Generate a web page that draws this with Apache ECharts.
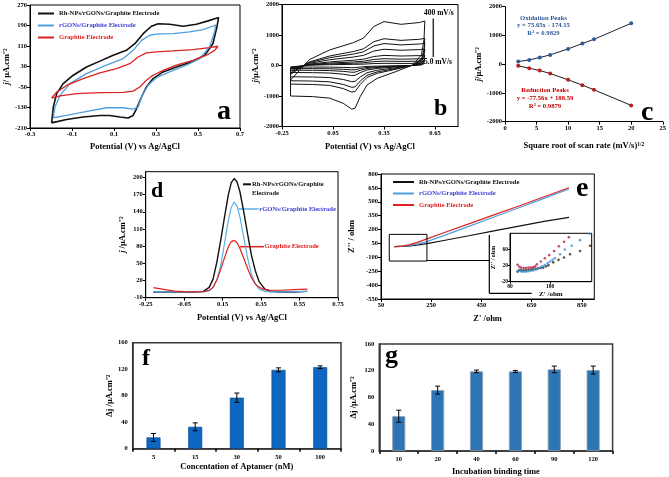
<!DOCTYPE html>
<html>
<head>
<meta charset="utf-8">
<script src="https://cdn.jsdelivr.net/npm/echarts@6/dist/echarts.min.js"></script>
<style>
html, body, #main {
  margin: 0;
  padding: 0;
  width: 669px;
  height: 477px;
  overflow: hidden;
  background: #fff;
}
</style>
</head>
<body>
<div id="main"></div>
<script>
// (a) CV loops, [potential V, j]
var aRh = [[-0.197,-190],[-0.189,-128],[-0.173,-76],[-0.142,-37],[-0.094,-4],[-0.031,28],[0.033,51],[0.096,74],[0.159,93],[0.199,119],[0.239,158],[0.278,187],[0.310,197],[0.365,195],[0.429,187],[0.492,195],[0.548,208],[0.587,218],[0.598,221],[0.590,184],[0.571,119],[0.532,74],[0.468,48],[0.397,28],[0.334,9],[0.286,-17],[0.254,-50],[0.231,-89],[0.207,-135],[0.191,-161],[0.167,-171],[0.128,-167],[0.080,-161],[0.033,-161],[-0.047,-167],[-0.126,-177],[-0.197,-190]];
var aRgo = [[-0.189,-170],[-0.181,-128],[-0.157,-83],[-0.110,-37],[-0.031,2],[0.064,35],[0.144,61],[0.191,93],[0.231,132],[0.270,152],[0.302,156],[0.381,158],[0.460,165],[0.524,174],[0.584,192],[0.579,165],[0.555,106],[0.508,61],[0.445,35],[0.365,9],[0.302,-14],[0.262,-43],[0.231,-89],[0.215,-128],[0.191,-136],[0.144,-131],[0.064,-131],[-0.047,-148],[-0.126,-161],[-0.189,-170]];
var aGraphite = [[-0.197,-93],[-0.173,-70],[-0.126,-44],[-0.047,-17],[0.033,5],[0.112,22],[0.175,41],[0.215,67],[0.254,83],[0.302,87],[0.381,91],[0.476,96],[0.555,104],[0.595,109],[0.579,93],[0.540,74],[0.476,54],[0.397,35],[0.334,15],[0.286,-4],[0.254,-24],[0.223,-50],[0.191,-66],[0.144,-71],[0.033,-72],[-0.078,-76],[-0.157,-85],[-0.197,-93]];

// (b) CV at scan rates 5..400 mV/s, shared potential path
var bPotential = [-0.20,-0.20,-0.09,0.03,0.17,0.23,0.29,0.35,0.45,0.56,0.59,0.585,0.57,0.52,0.42,0.31,0.25,0.21,0.18,0.16,0.11,0.03,-0.07,-0.20];
var b5 = [-50,-24,10,26,38,45,64,72,68,71,73,42,18,1,-10,-21,-32,-51,-70,-72,-62,-54,-51,-50];
var b15 = [-100,-48,19,51,75,90,128,144,135,141,146,84,35,2,-20,-42,-64,-102,-140,-143,-124,-107,-102,-100];
var b30 = [-155,-74,29,79,116,140,198,223,209,219,226,130,54,3,-31,-65,-99,-158,-217,-222,-192,-166,-158,-155];
var b50 = [-230,-110,44,117,173,207,294,331,311,324,336,193,81,5,-46,-97,-147,-235,-322,-329,-285,-246,-235,-230];
var b100 = [-370,-178,70,189,278,333,474,533,500,522,540,311,130,7,-74,-155,-237,-377,-518,-529,-459,-396,-377,-370];
var b150 = [-500,-240,95,255,375,450,640,720,675,705,730,420,175,10,-100,-210,-320,-510,-700,-715,-620,-535,-510,-500];
var b200 = [-610,-293,116,311,458,549,781,878,824,860,891,512,214,12,-122,-256,-390,-622,-854,-872,-756,-653,-622,-610];
var b400 = [-1000,-480,190,510,750,900,1280,1440,1350,1410,1460,840,350,20,-200,-420,-640,-1020,-1400,-1430,-1240,-1070,-1020,-1000];

// (c) peak current vs sqrt(scan rate)
var cRoot = [2.1,3.84,5.5,7.16,10,12.26,14.1,20];
var cOx = [92,150,231,324,532,717,867,1422];
var cRed = [-58,-139,-220,-324,-543,-728,-890,-1433];

// (d) DPV
var dPotential = [-0.21,-0.15,-0.10,-0.05,0.00,0.05,0.08,0.10,0.12,0.14,0.16,0.18,0.195,0.21,0.225,0.24,0.26,0.28,0.30,0.32,0.34,0.37,0.40,0.45,0.52,0.59];
var dRh = [0,0,0,0,0,1,8,22,52,90,131,170,191,198,192,175,140,101,64,37,18,5,1,0,0,1];
var dRgo = [0,0,0,0,0,0,2,8,21,46,85,126,148,157,150,131,95,59,31,14,5,1,0,0,0,1];
var dGraphite = [7.5,4,1.5,0.5,0,0.5,3,8,21,39,60,79,88,90,86,76,59,41,25,14,8,4,3,3,4,5];

// (e) Nyquist, [Z', Z'']
var eRh = [[103,15],[135,18],[166,24],[200,34],[233,48],[300,82],[400,133],[500,186],[600,238],[700,288],[799,332]];
var eRgo = [[103,15],[135,20],[166,30],[200,48],[233,70],[300,135],[400,234],[500,335],[600,436],[700,537],[799,638]];
var eGraphite = [[103,15],[130,20],[160,35],[195,62],[233,100],[300,165],[400,262],[500,358],[600,455],[700,554],[799,652]];
var eZoomBox = [[83,148],[233,148],[233,-140],[83,-140],[83,148]];
var eInsetRh = [[99,5],[103,9],[108,8],[114,8],[120,8],[126,9],[132,10],[138,11],[144,12],[150,13],[157,14],[163,15],[170,18],[176,21],[188,28],[201,34],[215,40],[230,48],[255,56],[280,69]];
var eInsetRgo = [[99,5],[102,8],[106,6],[110,5],[115,5],[120,5],[126,6],[132,7],[138,8],[144,10],[150,12],[155,15],[161,18],[167,21],[174,26],[180,30],[186,34],[192,38],[205,48],[217,60],[234,69],[255,83],[278,99]];
var eInsetGraphite = [[99,22],[103,17],[108,15],[114,14],[120,14],[126,15],[132,15],[138,16],[143,18],[147,23],[157,30],[167,38],[178,46],[190,56],[202,68],[215,79],[227,90]];

// (f) aptamer concentration
var fConc = ["5","15","30","50","100"];
var fMean = [17,33,77,119,123];
var fErr = [6,6,7,3,2];

// (g) incubation time
var gTime = ["10","20","40","60","90","120"];
var gMean = [52,91,119,119,122,121];
var gErr = [9,6,2,1.5,5,6];

var FONT = "Liberation Serif";
var NAME_RH = "Rh-NPs/rGONs/Graphite Electrode";
var NAME_RGO = "rGONs/Graphite Electrode";
var NAME_GR = "Graphite Electrode";
var C_BLACK = "#111111";
var C_BLUE = "#4f9fe0";
var C_BLUE_TXT = "#3b3fd4";
var C_RED = "#dd2222";
var TICK = 6.5;

function txt(size, extra) {
  return Object.assign({ fontFamily: FONT, fontWeight: "bold", fontSize: size, color: "#000" }, extra || {});
}

function valAxis(grid, min, max, ticks, extra) {
  var ax = {
    type: "value",
    gridIndex: grid,
    min: min,
    max: max,
    splitLine: { show: false },
    axisLine: { show: true, onZero: false, lineStyle: { color: "#000", width: 1 } },
    axisTick: { show: true, inside: false, length: 3, lineStyle: { color: "#000" }, customValues: ticks },
    axisLabel: txt(TICK, {
      margin: 3,
      customValues: ticks,
      formatter: function (v) { return String(v); },
    }),
    nameLocation: "middle",
    nameTextStyle: txt(8.5, { rich: { i: txt(8.5, { fontStyle: "italic" }) } }),
  };
  return Object.assign(ax, extra || {});
}

function pairs(xs, ys) {
  return xs.map(function (x, i) { return [x, ys[i]]; });
}

function errorBar(params, api) {
  var hi = api.coord([api.value(0), api.value(2)]);
  var lo = api.coord([api.value(0), api.value(1)]);
  var w = 2.5;
  var st = { stroke: "#000", lineWidth: 1 };
  return {
    type: "group",
    children: [
      { type: "line", shape: { x1: hi[0], y1: hi[1], x2: lo[0], y2: lo[1] }, style: st },
      { type: "line", shape: { x1: hi[0] - w, y1: hi[1], x2: hi[0] + w, y2: hi[1] }, style: st },
      { type: "line", shape: { x1: lo[0] - w, y1: lo[1], x2: lo[0] + w, y2: lo[1] }, style: st },
    ],
  };
}

function errData(mean, err) {
  return mean.map(function (m, i) { return [i, m - err[i], m + err[i]]; });
}

function line(name, xi, data, color, width) {
  return {
    name: name,
    type: "line",
    xAxisIndex: xi,
    yAxisIndex: xi,
    data: data,
    showSymbol: false,
    lineStyle: { color: color, width: width || 1.3 },
    itemStyle: { color: color },
  };
}

function letter(ch, x, y, size) {
  return { type: "text", left: x, top: y, style: txt(size, { text: ch, fill: "#000" }) };
}
function note(s, x, y, size, color, align) {
  return {
    type: "text", x: x, y: y,
    style: txt(size, { text: s, fill: color, align: align || "left", verticalAlign: "middle" }),
  };
}
function seg(x1, y1, x2, y2, color, w) {
  return { type: "line", shape: { x1: x1, y1: y1, x2: x2, y2: y2 }, style: { stroke: color, lineWidth: w || 1 } };
}

var myChart = echarts.init(document.getElementById("main"));

var boxed = { show: true, borderColor: "#000", borderWidth: 1 };
var barBox = { show: true, borderColor: "#3a3a3a", borderWidth: 1.5 };

var series = [];
series.push(line(NAME_RH, 0, aRh, C_BLACK, 1.6));
series.push(line(NAME_RGO, 0, aRgo, C_BLUE, 1.3));
series.push(line(NAME_GR, 0, aGraphite, C_RED, 1.3));

[b5, b15, b30, b50, b100, b150, b200, b400].forEach(function (arr, i) {
  series.push(line("scan" + i, 1, pairs(bPotential, arr), "#111", 1));
});

series.push({
  type: "line", xAxisIndex: 2, yAxisIndex: 2, data: pairs(cRoot, cOx),
  symbol: "circle", symbolSize: 4,
  lineStyle: { color: "#1b2430", width: 1 }, itemStyle: { color: "#2e5c9a" },
});
series.push({
  type: "line", xAxisIndex: 2, yAxisIndex: 2, data: pairs(cRoot, cRed),
  symbol: "circle", symbolSize: 4,
  lineStyle: { color: "#2a1616", width: 1 }, itemStyle: { color: "#b52020" },
});

series.push(line("d-rh", 3, pairs(dPotential, dRh), C_BLACK, 1.4));
series.push(line("d-rgo", 3, pairs(dPotential, dRgo), "#5aaee8", 1.2));
series.push(line("d-gr", 3, pairs(dPotential, dGraphite), C_RED, 1.2));

series.push(line(NAME_RH, 4, eRh, C_BLACK, 1.2));
series.push(line(NAME_RGO, 4, eRgo, C_BLUE, 1.2));
series.push(line(NAME_GR, 4, eGraphite, C_RED, 1.2));
series.push(line("zoom", 4, eZoomBox, "#000", 1));

series.push({ type: "scatter", xAxisIndex: 5, yAxisIndex: 5, data: eInsetRh, symbolSize: 2.6, itemStyle: { color: "#3a2a12" } });
series.push({ type: "scatter", xAxisIndex: 5, yAxisIndex: 5, data: eInsetRgo, symbolSize: 2.6, itemStyle: { color: "#3b8fd6" } });
series.push({ type: "scatter", xAxisIndex: 5, yAxisIndex: 5, data: eInsetGraphite, symbolSize: 2.6, itemStyle: { color: "#b51f45" } });

series.push({
  type: "bar", xAxisIndex: 6, yAxisIndex: 6, data: fMean, barWidth: 14,
  itemStyle: { color: "#0d66c2", borderColor: "#0a4a8c", borderWidth: 0.6 },
});
series.push({
  type: "custom", xAxisIndex: 6, yAxisIndex: 6, data: errData(fMean, fErr),
  renderItem: errorBar, encode: { x: 0, y: [1, 2] }, z: 5,
});
series.push({
  type: "bar", xAxisIndex: 7, yAxisIndex: 7, data: gMean, barWidth: 13,
  itemStyle: { color: "#2e75b6", borderColor: "#8c9aa8", borderWidth: 0.8 },
});
series.push({
  type: "custom", xAxisIndex: 7, yAxisIndex: 7, data: errData(gMean, gErr),
  renderItem: errorBar, encode: { x: 0, y: [1, 2] }, z: 5,
});

var catAxis = function (grid, cats, name, gap) {
  return {
    type: "category", gridIndex: grid, data: cats,
    axisLine: { lineStyle: { color: "#333", width: 1.5 } },
    axisTick: { show: true, length: 3, alignWithLabel: false, lineStyle: { color: "#000", width: 1.5 } },
    axisLabel: txt(TICK, { margin: 5 }),
    name: name, nameLocation: "middle", nameGap: gap,
    nameTextStyle: txt(8.5),
  };
};
var barY = function (grid, gap) {
  return {
    type: "value", gridIndex: grid, min: 0, max: 160, interval: 40,
    splitLine: { show: false },
    axisLine: { show: true, lineStyle: { color: "#333", width: 1.5 } },
    axisTick: { show: false },
    axisLabel: txt(TICK, { margin: 5 }),
    name: "Δj /μA.cm⁻²", nameLocation: "middle", nameGap: gap,
    nameTextStyle: txt(8.5),
  };
};

var legendData = [
  { name: NAME_RH, textStyle: { color: C_BLACK } },
  { name: NAME_RGO, textStyle: { color: C_BLUE_TXT } },
  { name: NAME_GR, textStyle: { color: C_RED } },
];

var option = {
  animation: false,
  backgroundColor: "#fff",
  grid: [
    Object.assign({ left: 30, top: 5, width: 210, height: 123 }, boxed),
    Object.assign({ left: 282, top: 4.5, width: 176, height: 122 }, boxed),
    { left: 505, top: 6.7, width: 160, height: 115 },
    Object.assign({ left: 145.7, top: 171.7, width: 192.3, height: 126 }, boxed),
    Object.assign({ left: 381, top: 174, width: 213.3, height: 125 }, boxed),
    Object.assign({ left: 510, top: 233.3, width: 81.7, height: 48.4 }, boxed),
    Object.assign({ left: 132.7, top: 342.7, width: 208.3, height: 106 }, barBox),
    Object.assign({ left: 379.3, top: 344, width: 233.3, height: 107.7 }, barBox),
  ],
  legend: [
    {
      left: 33, top: 5, orient: "vertical", icon: "rect", itemWidth: 16, itemHeight: 2, itemGap: 5,
      textStyle: txt(6.6), data: legendData, selectedMode: false,
    },
    {
      left: 388, top: 173.5, orient: "vertical", icon: "rect", itemWidth: 21, itemHeight: 2, itemGap: 4.5,
      textStyle: txt(6.6), data: legendData, selectedMode: false,
    },
  ],
  xAxis: [
    valAxis(0, -0.3, 0.7, [-0.3, -0.1, 0.1, 0.3, 0.5, 0.7], { name: "Potential (V) vs Ag/AgCl", nameGap: 14 }),
    valAxis(1, -0.25, 0.785, [-0.25, 0.05, 0.35, 0.65], { name: "Potential (V) vs Ag/AgCl", nameGap: 16 }),
    valAxis(2, 0, 25, [0, 5, 10, 15, 20, 25], {
      name: "Square root of scan rate (mV/s){s|1/2}", nameGap: 20,
      nameTextStyle: txt(8.5, { rich: { s: txt(5.5, { verticalAlign: "top" }) } }),
    }),
    valAxis(3, -0.25, 0.75, [-0.25, -0.05, 0.15, 0.35, 0.55, 0.75], { name: "Potential (V) vs Ag/AgCl", nameGap: 16 }),
    valAxis(4, 50, 900, [50, 250, 450, 650, 850], { name: "Z' /ohm", nameGap: 15 }),
    valAxis(5, 80, 284, [80, 180], {
      name: "Z' /ohm", nameGap: 6, nameTextStyle: txt(7),
      axisLabel: txt(5.5, { margin: 2, customValues: [80, 180] }),
      axisTick: { show: true, length: 2, lineStyle: { color: "#000" }, customValues: [80, 180] },
    }),
    catAxis(6, fConc, "Concentation of Aptamer (nM)", 14),
    catAxis(7, gTime, "Incubation binding time", 16),
  ],
  yAxis: [
    valAxis(0, -210, 270, [-210, -130, -50, 30, 110, 190, 270], { name: "{i|j}/ μA.cm⁻²", nameGap: 18 }),
    valAxis(1, -2000, 2000, [-2000, -1000, 0, 1000, 2000], {
      name: "{i|j}/μA.cm⁻²", nameGap: 20,
      axisLabel: txt(TICK, {
        margin: 3, customValues: [-2000, -1000, 0, 1000, 2000],
        formatter: function (v) { return v === 0 ? "0.0" : String(v); },
      }),
    }),
    valAxis(2, -2000, 2000, [-2000, -1000, 0, 1000, 2000], { name: "{i|j}/μA.cm⁻²", nameGap: 11 }),
    valAxis(3, -10, 210, [-10, 20, 50, 80, 110, 140, 170, 200], { name: "{i|j} /μA.cm⁻²", nameGap: 18 }),
    valAxis(4, -550, 800, [-550, -400, -250, -100, 50, 200, 350, 500, 650, 800], { name: "Z'' / ohm", nameGap: 25 }),
    valAxis(5, -20, 100, [-20, 20, 60], {
      name: "Z'' / ohm", nameGap: 9, nameTextStyle: txt(6),
      axisLabel: txt(5.5, { margin: 2, customValues: [-20, 20, 60], formatter: function (v) { return String(v); } }),
      axisTick: { show: true, length: 2, lineStyle: { color: "#000" }, customValues: [-20, 20, 60] },
    }),
    barY(6, 16),
    barY(7, 21),
  ],
  series: series,
  graphic: [
    letter("a", 217, 98, 28),
    letter("b", 434, 97, 24),
    letter("c", 641, 99, 28),
    letter("d", 151, 180, 22),
    letter("e", 576, 175, 28),
    letter("f", 142, 347, 24),
    letter("g", 385, 343, 26),
    // (b) scan-rate range marker
    note("400 mV/s", 424, 13.3, 7.5, "#000"),
    note("5.0 mV/s", 424, 62.3, 7.5, "#000"),
    seg(433.3, 18.5, 433.3, 57, "#333", 1.5),
    // (c) fit labels
    note("Oxidation Peaks", 543.5, 18.3, 6.7, "#2f5597", "center"),
    note("y = 75.65x - 174.15", 543.5, 25.3, 6.7, "#2f5597", "center"),
    note("R² = 0.9829", 543.5, 33, 6.7, "#2f5597", "center"),
    note("Reduction Peaks", 545, 90, 6.7, "#c00000", "center"),
    note("y = -77.56x + 188.59", 545, 98, 6.7, "#c00000", "center"),
    note("R² = 0.9879", 545, 106, 6.7, "#c00000", "center"),
    // (d) curve labels
    seg(243, 184.3, 251, 184.3, C_BLACK, 2),
    note("Rh-NPs/rGONs/Graphite", 252, 184.3, 6.6, C_BLACK),
    note("Electrode", 252, 193, 6.6, C_BLACK),
    seg(238.3, 209, 258.5, 209, "#5aaee8", 1.5),
    note(NAME_RGO, 259.3, 209, 6.6, C_BLUE_TXT),
    seg(240, 246.7, 264, 246.7, C_RED, 1.5),
    note(NAME_GR, 264.5, 246.7, 6.6, C_RED),
    // (e) zoom connector and inset frame
    seg(426.7, 260.5, 489.3, 260.5, "#000", 1),
    seg(489.3, 235, 489.3, 293.3, "#000", 1.2),
    seg(489.3, 293.3, 531.7, 293.3, "#000", 1.2),
  ],
};

myChart.setOption(option);
window.onresize = myChart.resize;
</script>
</body>
</html>
